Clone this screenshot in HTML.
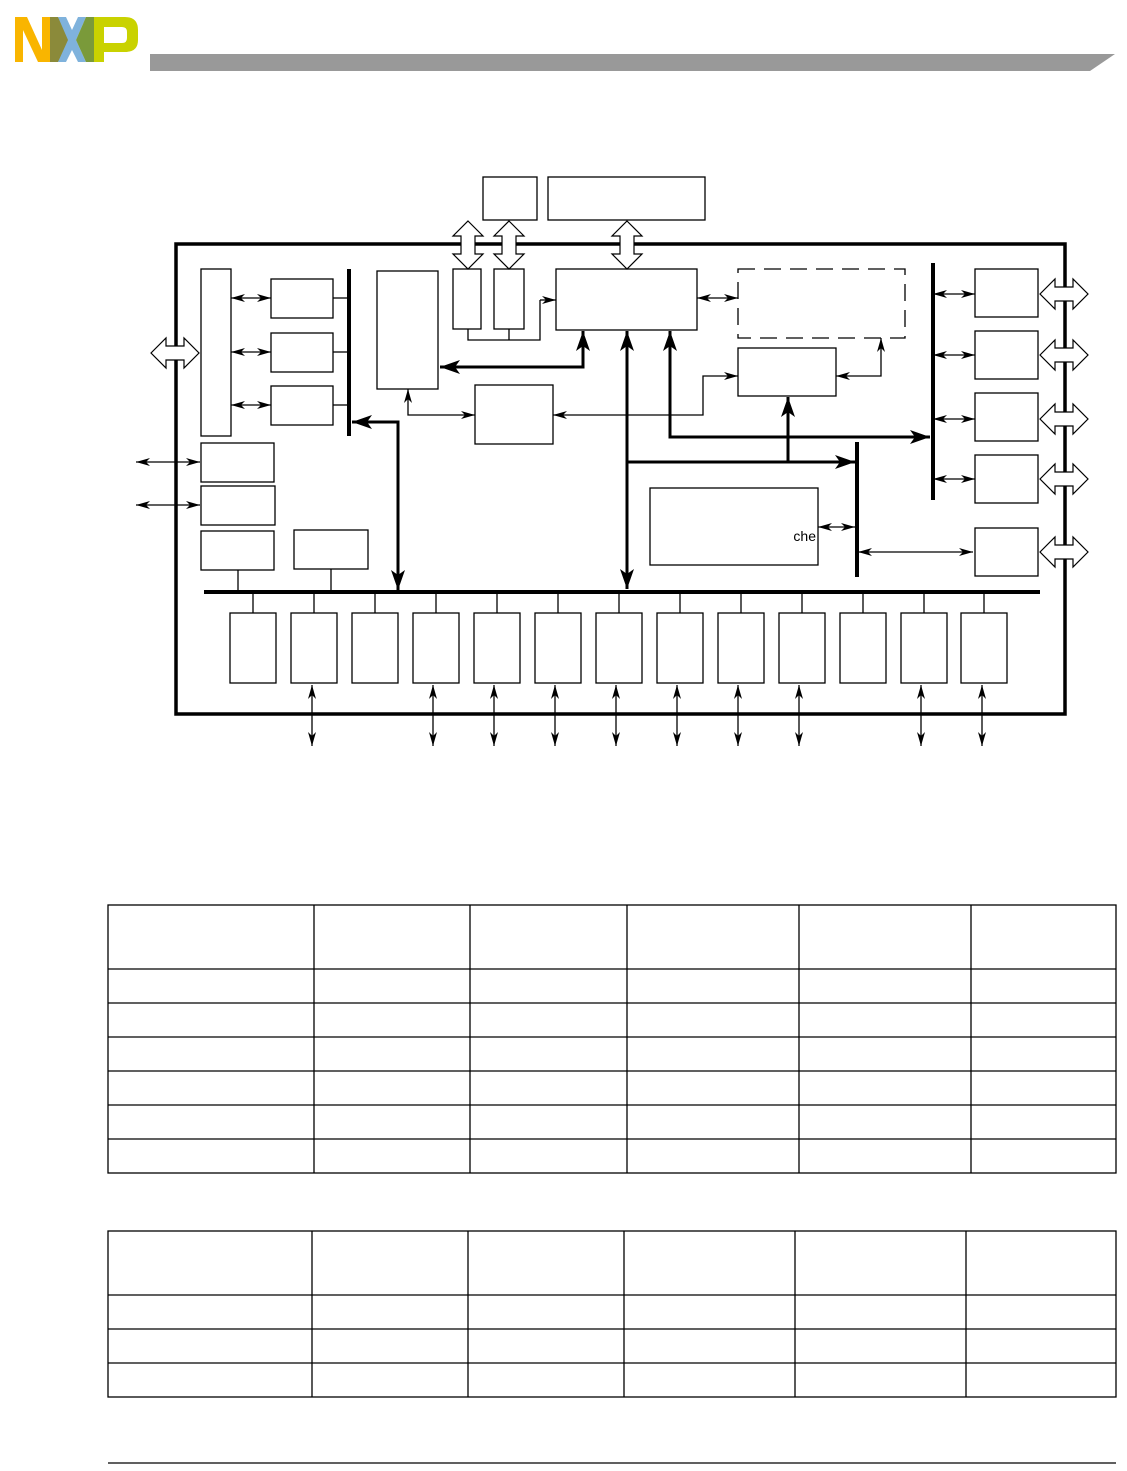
<!DOCTYPE html>
<html><head><meta charset="utf-8"><style>
html,body{margin:0;padding:0;background:#fff;}
svg{display:block;font-family:"Liberation Sans",sans-serif;}
</style></head><body>
<svg width="1127" height="1471" viewBox="0 0 1127 1471" xmlns="http://www.w3.org/2000/svg">
<defs>
<marker id="a" viewBox="0 0 14 8" refX="14" refY="4" markerWidth="14" markerHeight="8" markerUnits="userSpaceOnUse" orient="auto-start-reverse"><path d="M0,0 L14,4 L0,8 L4,4 z" fill="#000"/></marker>
<marker id="b" viewBox="0 0 20 14" refX="20" refY="7" markerWidth="20" markerHeight="14" markerUnits="userSpaceOnUse" orient="auto-start-reverse"><path d="M0,0 L20,7 L0,14 L5,7 z" fill="#000"/></marker>
</defs>
<!-- logo -->
<polygon points="15,17 27,17 42,50 42,17 50,17 50,62 38,62 23,30 23,62 15,62" fill="#f9b500"/>
<polygon points="50,17 58,17 72,40 58,62 50,62" fill="#8b8a3a"/>
<polygon points="58,17 66,17 72,30 78,17 86,17 76,40 86,62 78,62 72,50 66,62 58,62 68,40" fill="#7fb2dc"/>
<polygon points="86,17 94,17 94,62 86,62 76,40" fill="#7a9a3a"/>
<path d="M94,17 L125,17 Q138,17 138,30 L138,40 Q138,52 125,52 L104,52 L104,62 L94,62 Z M104,27 L104,43 L122,43 Q127,43 127,38 L127,32 Q127,27 122,27 Z" fill="#c9d200" fill-rule="evenodd"/>
<polygon points="150,54 1115,54 1090,71 150,71" fill="#999"/>

<g fill="none" stroke="#000" stroke-width="1.3">
<rect x="176" y="244" width="889" height="470" stroke-width="3.5"/>
<rect x="483" y="177" width="54" height="43" fill="#fff"/>
<rect x="548" y="177" width="157" height="43" fill="#fff"/>
<rect x="201" y="269" width="30" height="167"/>
<rect x="271" y="279" width="62" height="39"/>
<rect x="271" y="333" width="62" height="39"/>
<rect x="271" y="386" width="62" height="39"/>
<line x1="333" y1="298" x2="349" y2="298"/><line x1="333" y1="352" x2="349" y2="352"/><line x1="333" y1="405" x2="349" y2="405"/>
<rect x="377" y="271" width="61" height="118"/>
<rect x="453" y="269" width="28" height="60"/>
<rect x="494" y="269" width="30" height="60"/>
<polyline points="468,329 468,340 540,340 540,300"/>
<line x1="509" y1="329" x2="509" y2="340"/>
<line x1="540" y1="300" x2="556" y2="300" marker-end="url(#a)"/>
<rect x="556" y="269" width="141" height="61"/>
<rect x="475" y="385" width="78" height="59"/>
<polyline points="408,389 408,415 475,415" marker-start="url(#a)" marker-end="url(#a)"/>
<polyline points="553,415 703,415 703,376 738,376" marker-start="url(#a)" marker-end="url(#a)"/>
<rect x="738" y="269" width="167" height="69" stroke-dasharray="17,9"/>
<line x1="697" y1="298" x2="738" y2="298" marker-start="url(#a)" marker-end="url(#a)"/>
<rect x="738" y="348" width="98" height="48"/>
<polyline points="836,376 881,376 881,338" marker-start="url(#a)" marker-end="url(#a)"/>
<rect x="650" y="488" width="168" height="77"/>
<line x1="818" y1="527" x2="855" y2="527" marker-start="url(#a)" marker-end="url(#a)"/>
<line x1="858" y1="552" x2="973" y2="552" marker-start="url(#a)" marker-end="url(#a)"/>
<rect x="975" y="269" width="63" height="48"/>
<rect x="975" y="331" width="63" height="48"/>
<rect x="975" y="393" width="63" height="48"/>
<rect x="975" y="455" width="63" height="48"/>
<rect x="975" y="528" width="63" height="48"/>
<line x1="933" y1="294" x2="975" y2="294" marker-start="url(#a)" marker-end="url(#a)"/>
<line x1="933" y1="355" x2="975" y2="355" marker-start="url(#a)" marker-end="url(#a)"/>
<line x1="933" y1="419" x2="975" y2="419" marker-start="url(#a)" marker-end="url(#a)"/>
<line x1="933" y1="479" x2="975" y2="479" marker-start="url(#a)" marker-end="url(#a)"/>
<line x1="231" y1="298" x2="271" y2="298" marker-start="url(#a)" marker-end="url(#a)"/>
<line x1="231" y1="352" x2="271" y2="352" marker-start="url(#a)" marker-end="url(#a)"/>
<line x1="231" y1="405" x2="271" y2="405" marker-start="url(#a)" marker-end="url(#a)"/>
<line x1="136" y1="462" x2="200" y2="462" marker-start="url(#a)" marker-end="url(#a)"/>
<line x1="136" y1="505" x2="200" y2="505" marker-start="url(#a)" marker-end="url(#a)"/>
<rect x="201" y="443" width="73" height="39"/>
<rect x="201" y="486" width="74" height="39"/>
<rect x="201" y="531" width="73" height="39"/>
<rect x="294" y="530" width="74" height="39"/>
<line x1="238" y1="570" x2="238" y2="592"/><line x1="331" y1="569" x2="331" y2="592"/>
<g id="bb">
<rect x="230" y="613" width="46" height="70"/><line x1="253" y1="592" x2="253" y2="613"/>
</g>
<use href="#bb" x="61"/><use href="#bb" x="122"/><use href="#bb" x="183"/><use href="#bb" x="244"/><use href="#bb" x="305"/><use href="#bb" x="366"/><use href="#bb" x="427"/><use href="#bb" x="488"/><use href="#bb" x="549"/><use href="#bb" x="610"/><use href="#bb" x="671"/><use href="#bb" x="731"/>
<g>
<line x1="312" y1="685" x2="312" y2="746" marker-start="url(#a)" marker-end="url(#a)"/>
<line x1="433" y1="685" x2="433" y2="746" marker-start="url(#a)" marker-end="url(#a)"/>
<line x1="494" y1="685" x2="494" y2="746" marker-start="url(#a)" marker-end="url(#a)"/>
<line x1="555" y1="685" x2="555" y2="746" marker-start="url(#a)" marker-end="url(#a)"/>
<line x1="616" y1="685" x2="616" y2="746" marker-start="url(#a)" marker-end="url(#a)"/>
<line x1="677" y1="685" x2="677" y2="746" marker-start="url(#a)" marker-end="url(#a)"/>
<line x1="738" y1="685" x2="738" y2="746" marker-start="url(#a)" marker-end="url(#a)"/>
<line x1="799" y1="685" x2="799" y2="746" marker-start="url(#a)" marker-end="url(#a)"/>
<line x1="921" y1="685" x2="921" y2="746" marker-start="url(#a)" marker-end="url(#a)"/>
<line x1="982" y1="685" x2="982" y2="746" marker-start="url(#a)" marker-end="url(#a)"/>
</g>
</g>
<g fill="none" stroke="#000" stroke-width="4">
<line x1="349" y1="269" x2="349" y2="436"/>
<line x1="933" y1="263" x2="933" y2="500"/>
<line x1="857" y1="442" x2="857" y2="577"/>
<line x1="204" y1="592" x2="1040" y2="592"/>
</g>
<g fill="none" stroke="#000" stroke-width="3">
<polyline points="352,422 398,422 398,590" marker-start="url(#b)" marker-end="url(#b)"/>
<polyline points="440,367 583,367 583,331" marker-start="url(#b)" marker-end="url(#b)"/>
<line x1="627" y1="331" x2="627" y2="589" marker-start="url(#b)" marker-end="url(#b)"/>
<polyline points="670,331 670,437 930,437" marker-start="url(#b)" marker-end="url(#b)"/>
<line x1="627" y1="462" x2="855" y2="462" marker-end="url(#b)"/>
<line x1="788" y1="462" x2="788" y2="397" marker-end="url(#b)"/>
</g>
<g fill="#fff" stroke="#000" stroke-width="1.2">
<path id="hv" d="M468,221 L483,236 L475,236 L475,254 L483,254 L468,269 L453,254 L461,254 L461,236 L453,236 Z"/>
<use href="#hv" x="41"/><use href="#hv" x="159"/>
<path id="hh" d="M151,353 L166,338 L166,346 L184,346 L184,338 L199,353 L184,368 L184,360 L166,360 L166,368 Z"/>
<use href="#hh" x="889" y="-59"/><use href="#hh" x="889" y="2"/><use href="#hh" x="889" y="66"/><use href="#hh" x="889" y="126"/><use href="#hh" x="889" y="199"/>
</g>
<text x="816" y="541" font-size="14" text-anchor="end">che</text>
<g fill="none" stroke="#000" stroke-width="1.3">
<rect x="108" y="905" width="1008" height="268"/>
<line x1="108" y1="969" x2="1116" y2="969"/><line x1="108" y1="1003" x2="1116" y2="1003"/><line x1="108" y1="1037" x2="1116" y2="1037"/><line x1="108" y1="1071" x2="1116" y2="1071"/><line x1="108" y1="1105" x2="1116" y2="1105"/><line x1="108" y1="1139" x2="1116" y2="1139"/>
<line x1="314" y1="905" x2="314" y2="1173"/><line x1="470" y1="905" x2="470" y2="1173"/><line x1="627" y1="905" x2="627" y2="1173"/><line x1="799" y1="905" x2="799" y2="1173"/><line x1="971" y1="905" x2="971" y2="1173"/>
<rect x="108" y="1231" width="1008" height="166"/>
<line x1="108" y1="1295" x2="1116" y2="1295"/><line x1="108" y1="1329" x2="1116" y2="1329"/><line x1="108" y1="1363" x2="1116" y2="1363"/>
<line x1="312" y1="1231" x2="312" y2="1397"/><line x1="468" y1="1231" x2="468" y2="1397"/><line x1="624" y1="1231" x2="624" y2="1397"/><line x1="795" y1="1231" x2="795" y2="1397"/><line x1="966" y1="1231" x2="966" y2="1397"/>
<line x1="108" y1="1463" x2="1116" y2="1463"/>
</g>
</svg>
</body></html>
